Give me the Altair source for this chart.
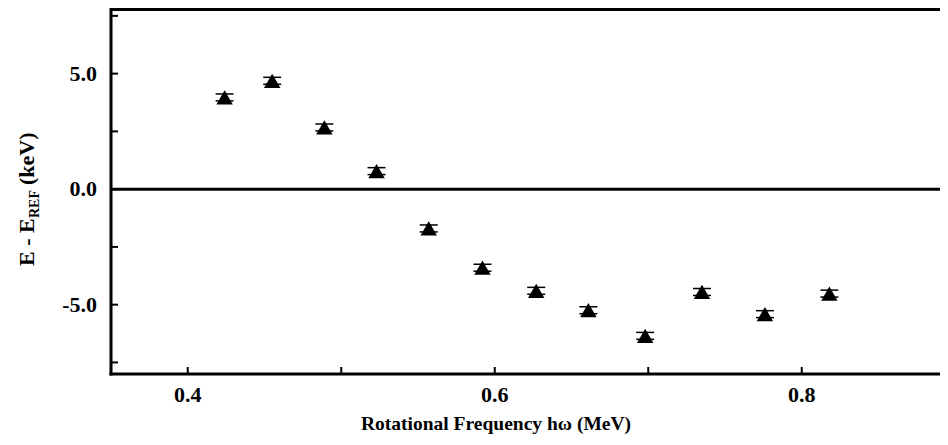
import altair as alt
import pandas as pd

# Data
freq = [0.424, 0.455, 0.489, 0.523, 0.557, 0.592, 0.627, 0.661, 0.698, 0.735, 0.776, 0.818]
delta_e = [3.97, 4.69, 2.67, 0.78, -1.70, -3.40, -4.40, -5.24, -6.35, -4.45, -5.41, -4.52]
err = [0.15, 0.15, 0.15, 0.15, 0.15, 0.15, 0.15, 0.15, 0.15, 0.15, 0.15, 0.15]

x_ticks = [0.4, 0.5, 0.6, 0.7, 0.8]
x_labels = [0.4, 0.6, 0.8]
y_ticks = [-7.5, -5.0, -2.5, 0.0, 2.5, 5.0, 7.5]
y_labels = [-5.0, 0.0, 5.0]

FONT = "Liberation Serif"
W, H = 829, 366

df = pd.DataFrame({"freq": freq, "de": delta_e, "err": err})
df["hi"] = df["de"] + df["err"]
df["lo"] = df["de"] - df["err"]

xs = alt.Scale(domain=[0.35, 0.35 + W / 1535.0], nice=False, zero=False)
ys = alt.Scale(domain=[-8.0, 7.84], nice=False, zero=False)

X = lambda f: alt.X(f, scale=xs, axis=None)
Y = lambda f: alt.Y(f, scale=ys, axis=None)

base = alt.Chart(df)

points = base.mark_point(shape="triangle-up", filled=True, size=270, color="black",
                         opacity=1).encode(x=X("freq:Q"), y=Y("de:Q"))

cap_hi = base.mark_point(shape="M-1,0L1,0", size=324, filled=False, strokeWidth=1.5,
                         color="black", opacity=1).encode(x=X("freq:Q"), y=Y("hi:Q"))
cap_lo = base.mark_point(shape="M-1,0L1,0", size=324, filled=False, strokeWidth=1.5,
                         color="black", opacity=1).encode(x=X("freq:Q"), y=Y("lo:Q"))

zero = alt.Chart(pd.DataFrame({"z": [0.0]})).mark_rule(color="black", strokeWidth=3).encode(
    y=Y("z:Q"))

one = pd.DataFrame({"a": [0]})
top = alt.Chart(one).mark_rule(color="black", strokeWidth=3).encode(
    x=alt.value(0), x2=alt.value(W), y=alt.value(1.5))
left = alt.Chart(one).mark_rule(color="black", strokeWidth=3).encode(
    x=alt.value(0), y=alt.value(0), y2=alt.value(H + 1.5))
bottom = alt.Chart(one).mark_rule(color="black", strokeWidth=3).encode(
    x=alt.value(-1.5), x2=alt.value(W), y=alt.value(H))

xt = alt.Chart(pd.DataFrame({"v": x_ticks})).mark_rule(color="black", strokeWidth=2).encode(
    x=X("v:Q"), y=alt.value(H), y2=alt.value(H - 7))
yt = alt.Chart(pd.DataFrame({"v": y_ticks})).mark_rule(color="black", strokeWidth=2).encode(
    y=Y("v:Q"), x=alt.value(0), x2=alt.value(7))

txt = dict(font=FONT, fontWeight="bold", color="black")

xl = alt.Chart(pd.DataFrame({"v": x_labels, "t": [f"{v:.1f}" for v in x_labels]})).mark_text(
    align="center", baseline="middle", fontSize=22, **txt
).encode(x=X("v:Q"), y=alt.value(H + 21), text="t:N")
yl = alt.Chart(pd.DataFrame({"v": y_labels, "t": [f"{v:.1f}" for v in y_labels]})).mark_text(
    align="right", baseline="middle", fontSize=22, **txt
).encode(y=Y("v:Q"), x=alt.value(-14), text="t:N")

x_title = alt.Chart(pd.DataFrame({"t": ["Rotational Frequency h\u03c9 (MeV)"]})).mark_text(
    align="center", baseline="middle", fontSize=19.5, **txt
).encode(text="t:N", x=alt.value(385), y=alt.value(416))

yt1 = alt.Chart(pd.DataFrame({"t": ["E - E"]})).mark_text(
    angle=270, align="left", baseline="alphabetic", fontSize=22, **txt
).encode(text="t:N", x=alt.value(-77), y=alt.value(258))
yt2 = alt.Chart(pd.DataFrame({"t": ["REF"]})).mark_text(
    angle=270, align="left", baseline="alphabetic", fontSize=14, **txt
).encode(text="t:N", x=alt.value(-72), y=alt.value(210))
yt3 = alt.Chart(pd.DataFrame({"t": ["(keV)"]})).mark_text(
    angle=270, align="left", baseline="alphabetic", fontSize=22, **txt
).encode(text="t:N", x=alt.value(-77), y=alt.value(177))

chart = alt.layer(
    zero, top, left, bottom, xt, yt, cap_hi, cap_lo, points, xl, yl, x_title, yt1, yt2, yt3
).properties(
    width=W, height=H,
    padding={"left": 103, "top": 0, "right": 0, "bottom": 63},
    autosize=alt.AutoSizeParams(type="none"),
    background="white",
).configure_view(stroke=None)

chart.save("out.html", embed_options={"renderer": "svg", "actions": False})
